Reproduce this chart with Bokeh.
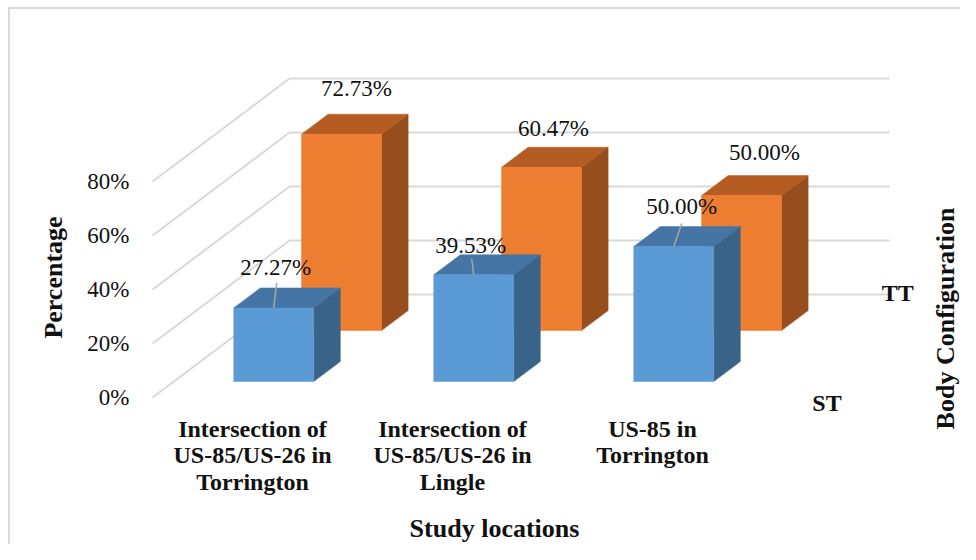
import numpy as np
from bokeh.plotting import figure
from bokeh.models import ColumnDataSource, FixedTicker, PrintfTickFormatter, Range1d
from bokeh.core.properties import value
from bokeh.embed import file_html
from bokeh.resources import INLINE

# ---------------- data ----------------
locations = ["Intersection of\nUS-85/US-26 in\nTorrington",
             "Intersection of\nUS-85/US-26 in\nLingle",
             "US-85 in\nTorrington"]
series_names = ["ST", "TT"]
st_values = [27.27, 39.53, 50.00]
tt_values = [72.73, 60.47, 50.00]
y_ticks = [0, 20, 40, 60, 80]

# ---------------- layout / style (canvas pixels) ----------------
W, H = 960, 544
MB_L, MB_R, MB_T, MB_B = 140, 0, 10, 0
X0_PX, Y0_PX = 152, 397             # canvas pixel of data origin on the front plane
PX_PER_CAT, PX_PER_PCT = 200.0, 2.7

frame_l, frame_r = MB_L, W - MB_R
frame_t, frame_b = MB_T, H - MB_B

def px_x(px):
    return (px - X0_PX) / PX_PER_CAT

def px_y(py):
    return (Y0_PX - py) / PX_PER_PCT

DEPTH_DX = 137 / PX_PER_CAT         # full depth of the floor, data units
DEPTH_DY = 103 / PX_PER_PCT
BAR_HALF = 40 / PX_PER_CAT
BAR_DEPTH = 0.194
ROW_FRONT = {"ST": 0.155, "TT": 0.65}
COLORS = {"ST": ("#5B9BD5", "#4475A5", "#3A638A"),
          "TT": ("#ED7D31", "#B45C22", "#964E1E")}
GRID_COLOR = "#D9D9D9"
SERIF = "Liberation Serif"
TXT = "#111111"

# value-label offsets (screen px) relative to each bar's front-top centre
LABEL_OFF = {"ST": ([2, -3, 8], [-40, -29, -40]),
             "TT": ([15, 12, 23], [-46, -39, -43])}
LEADER_END = ([3, -2, 8], [-25, -16, -23])

p = figure(width=W, height=H, output_backend="svg", toolbar_location=None,
           x_range=Range1d(px_x(frame_l), px_x(frame_r)),
           y_range=Range1d(px_y(frame_b), px_y(frame_t)),
           x_axis_location=None,
           min_border=0, min_border_left=MB_L, min_border_right=MB_R,
           min_border_top=MB_T, min_border_bottom=MB_B)
p.outline_line_color = None
p.xgrid.visible = False
p.ygrid.visible = False
p.background_fill_color = "white"
p.border_fill_color = None
p.styles = {"background": "linear-gradient(#D9D9D9, #D9D9D9) 8px 7px / 2px 100% no-repeat, "
                          "linear-gradient(#D9D9D9, #D9D9D9) 8px 7px / 100% 2px no-repeat, #FFFFFF"}

n_cat = len(locations)
centers = np.arange(n_cat) + 0.5

# ---------------- walls / gridlines ----------------
gx, gy = [], []
for t in y_ticks:
    gx.append([0, DEPTH_DX]); gy.append([t, t + DEPTH_DY])
    gx.append([DEPTH_DX, n_cat + DEPTH_DX]); gy.append([t + DEPTH_DY, t + DEPTH_DY])
p.multi_line(gx, gy, line_color=GRID_COLOR, line_width=2)

# ---------------- bars ----------------
def bar_faces(vals, f):
    b = f + BAR_DEPTH
    fr_x, fr_y, tp_x, tp_y, sd_x, sd_y = [], [], [], [], [], []
    for c, v in zip(centers, vals):
        xl, xr = c - BAR_HALF + f * DEPTH_DX, c + BAR_HALF + f * DEPTH_DX
        bl, br = c - BAR_HALF + b * DEPTH_DX, c + BAR_HALF + b * DEPTH_DX
        y0, y1 = f * DEPTH_DY, v + f * DEPTH_DY
        by0, by1 = b * DEPTH_DY, v + b * DEPTH_DY
        fr_x.append([xl, xr, xr, xl]); fr_y.append([y0, y0, y1, y1])
        tp_x.append([xl, xr, br, bl]); tp_y.append([y1, y1, by1, by1])
        sd_x.append([xr, br, br, xr]); sd_y.append([y0, by0, by1, y1])
    return (fr_x, fr_y), (tp_x, tp_y), (sd_x, sd_y)

series_vals = {"ST": st_values, "TT": tt_values}
for name in ["TT", "ST"]:
    f = ROW_FRONT[name]
    front, top, side = bar_faces(series_vals[name], f)
    cf, ct, cs = COLORS[name]
    p.patches(*side, fill_color=cs, line_color=cs, line_width=0.5)
    p.patches(*top, fill_color=ct, line_color=ct, line_width=0.5)
    p.patches(*front, fill_color=cf, line_color=cf, line_width=0.5)

# ---------------- value labels ----------------
for name in ["TT", "ST"]:
    f = ROW_FRONT[name]
    vals = series_vals[name]
    xs = list(centers + f * DEPTH_DX)
    ys = [v + f * DEPTH_DY for v in vals]
    if name == "ST":
        lx = [x + dx / PX_PER_CAT for x, dx in zip(xs, LEADER_END[0])]
        ly = [y - dy / PX_PER_PCT for y, dy in zip(ys, LEADER_END[1])]
        p.segment(x0=xs, y0=ys, x1=lx, y1=ly, line_color="#A6A6A6", line_width=1.5)
    src = ColumnDataSource(dict(x=xs, y=ys, t=[f"{v:.2f}%" for v in vals],
                                xo=LABEL_OFF[name][0], yo=LABEL_OFF[name][1]))
    p.text(x="x", y="y", text="t", x_offset="xo", y_offset="yo", source=src,
           text_font=value(SERIF), text_font_size="23px", text_color=TXT,
           text_align="center", text_baseline="middle")

# depth-axis labels (series names)
for name, (dxp, dyp) in zip(series_names, [(40, 31), (43, -28)]):
    f = ROW_FRONT[name] + BAR_DEPTH / 2
    p.text(x=[n_cat + f * DEPTH_DX], y=[f * DEPTH_DY], text=[name],
           x_offset=dxp, y_offset=dyp, text_font=value(SERIF), text_font_size="24px",
           text_font_style="bold", text_color=TXT, text_align="center", text_baseline="middle")

# category labels (one text row per line)
cx, cy, ct_ = [], [], []
for c, lab in zip(centers, locations):
    for j, line in enumerate(lab.split("\n")):
        cx.append(c); cy.append(px_y(428 + 26.5 * j)); ct_.append(line)
p.text(x=cx, y=cy, text=ct_, text_font=value(SERIF), text_font_size="24px",
       text_font_style="bold", text_color=TXT, text_align="center", text_baseline="middle")

# ---------------- y axis ----------------
p.yaxis.ticker = FixedTicker(ticks=y_ticks)
p.yaxis.formatter = PrintfTickFormatter(format="%d%%")
p.yaxis.axis_line_color = None
p.yaxis.major_tick_line_color = None
p.yaxis.minor_tick_line_color = None
p.yaxis.major_label_standoff = 5
p.yaxis.major_label_text_font = SERIF
p.yaxis.major_label_text_font_size = "23px"
p.yaxis.major_label_text_color = TXT
p.yaxis.axis_label = "Percentage"
p.yaxis.axis_label_standoff = 16
p.yaxis.axis_label_text_font = SERIF
p.yaxis.axis_label_text_font_size = "26px"
p.yaxis.axis_label_text_font_style = "bold"
p.yaxis.axis_label_text_color = TXT

# ---------------- other titles ----------------
p.text(x=[px_x(494)], y=[px_y(528)], text=["Study locations"],
       text_font=value(SERIF), text_font_size="26px", text_font_style="bold",
       text_color=TXT, text_align="center", text_baseline="middle")
p.text(x=[px_x(945)], y=[px_y(318)], text=["Body Configuration"], angle=np.pi / 2,
       text_font=value(SERIF), text_font_size="26px", text_font_style="bold",
       text_color=TXT, text_align="center", text_baseline="middle")

open("out.html", "w").write(file_html(p, INLINE))
